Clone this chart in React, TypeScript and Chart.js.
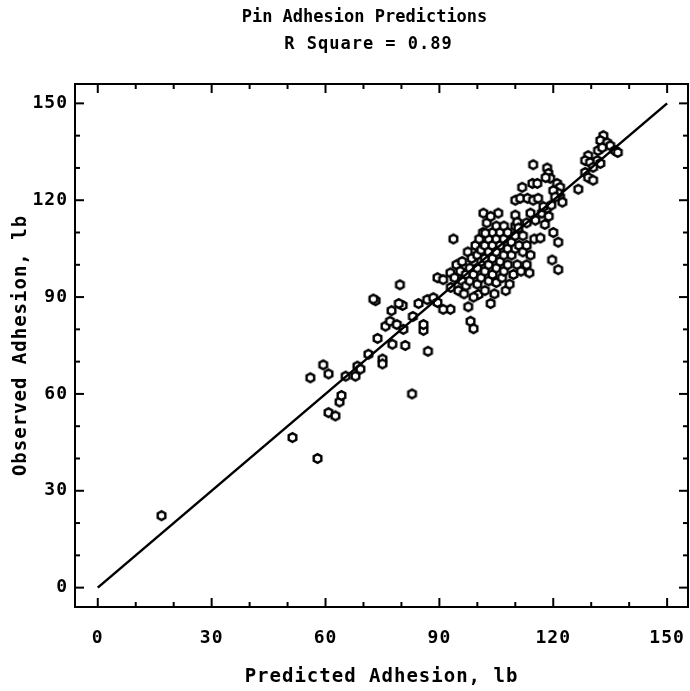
import React, { useEffect, useRef } from "react";
import { Chart, registerables } from "chart.js";
Chart.register(...registerables);

const titleLines = ["Pin Adhesion Predictions", "R Square = 0.89"];
const xAxisTitle = "Predicted Adhesion, lb";
const yAxisTitle = "Observed Adhesion, lb";
const tickValues = [0, 30, 60, 90, 120, 150];
const minorTickValues = [0, 10, 20, 30, 40, 50, 60, 70, 80, 90, 100, 110, 120, 130, 140, 150];
const fitLineX = [0, 150];
const fitLineY = [0, 150];

const predicted = [
  16.8, 51.3, 57.9, 60.8, 62.6, 63.7, 64.2, 82.8,
  56, 59.4, 60.8, 65.3, 67.9, 68.4, 69.2, 71.3, 75, 75, 73.7, 77.6, 81, 87, 75.8, 77, 78.8, 80.5, 83, 85.8, 85.8, 77.4, 80.3, 79.3, 73.2, 72.6, 84.5, 86.8, 88.4, 79.6, 89.5, 91, 92.9, 92.9, 91, 89.5, 97.6, 98.2, 99, 100.3, 93.7,
  93, 94, 94.5, 95, 95.5, 96, 96, 96.5, 97, 97, 97.5, 98, 98, 98.5, 99, 99, 99.5, 100, 100, 100, 100.5, 101, 101, 101, 101.5, 102, 102, 102, 102, 102.5, 103, 103, 103, 103, 103.5, 104, 104, 104, 104, 104.5, 105, 105, 105, 105, 105, 105.5, 106, 106, 106, 106.5, 107, 107, 107, 107, 107.5, 108, 108, 108, 108.5, 109, 109, 109.5, 110, 110, 110, 110.5, 111, 111.5, 112, 112, 113, 113.7, 114, 113, 113, 115, 116.6, 120, 121.3, 119.7, 121.3, 101.6, 102.1, 103.5, 110, 110.5, 110.8, 114, 115.3, 117, 118.3, 118.8, 117.8, 110, 111.3, 113.2, 114.7, 116, 121.8, 122.4, 117.4, 119.5, 114.7, 118.4, 118.7, 119.2, 118, 121, 121.8, 121.3, 120, 120.5, 111.8, 114.5, 115.8,
  133.2, 132.4, 134.2, 135, 136.3, 137, 131.8, 132.9, 129.2, 128.4, 129.7, 131.6, 132.4, 130.5, 128.4, 129.2, 130.5, 126.6,
];

const observed = [
  22.3, 46.5, 40, 54.2, 53.2, 57.5, 59.5, 60,
  65, 69, 66.2, 65.5, 65.5, 68.6, 67.7, 72.3, 70.8, 69.3, 77.2, 75.4, 75, 73.2, 81, 82.5, 81.5, 80, 84, 79.7, 81.5, 85.8, 87.4, 88, 88.9, 89.4, 88, 89.2, 89.8, 93.8, 96, 95.4, 97.5, 86.2, 86.2, 88.3, 87, 82.5, 80.2, 90.8, 108,
  93, 96, 100, 92, 98, 95, 101, 91, 97, 93.5, 104, 99, 95, 102, 90, 97, 106, 94, 99, 103, 108, 96, 101, 104.6, 110, 92, 98, 102, 106, 113, 95, 100, 104, 108, 88, 97, 102, 106, 110, 91, 99, 104, 108, 112, 94.5, 116, 101, 106, 110, 96, 98, 103, 108, 112, 92, 100, 105, 110, 94, 103, 107, 97, 105, 109, 112, 100, 106, 98, 104, 109, 100, 97.5, 103, 106, 113, 108, 108.3, 110, 107, 101.5, 98.5, 116, 109.8, 115, 115.4, 113.2, 111.4, 116, 113.8, 116, 117.4, 115, 112.5, 120, 120.6, 120.6, 120, 120.6, 121, 119.4, 118, 118.5, 131, 130, 128.3, 126.8, 127, 125.2, 124, 122.2, 123, 121, 124, 125.2, 125.2,
  140, 138.5, 137.8, 136.9, 135.4, 134.8, 135.4, 136.3, 133.8, 132.3, 131.7, 132.3, 131.4, 130.2, 128.6, 127, 126.2, 123.4,
];

const FONT = '"DejaVu Sans Mono", monospace';

function makeHexagon(): HTMLCanvasElement {
  const c = document.createElement("canvas");
  c.width = 13;
  c.height = 13;
  const g = c.getContext("2d")!;
  g.beginPath();
  for (let i = 0; i < 6; i++) {
    const a = Math.PI / 6 + (i * Math.PI) / 3;
    const px = 6.5 + 4.4 * Math.cos(a);
    const py = 6.5 + 4.4 * Math.sin(a);
    if (i === 0) g.moveTo(px, py);
    else g.lineTo(px, py);
  }
  g.closePath();
  g.fillStyle = "#fff";
  g.fill();
  g.lineWidth = 2.4;
  g.strokeStyle = "#000";
  g.stroke();
  return c;
}

const spacingPlugin = {
  id: "spacing",
  beforeDraw(chart: any) {
    (chart.ctx as any).letterSpacing = "1px";
  },
};

const framePlugin = {
  id: "frameTicks",
  afterDatasetsDraw(chart: any) {
    const { ctx, chartArea, scales } = chart;
    const { left, right, top, bottom } = chartArea;
    const x = scales.x;
    const y = scales.y;
    ctx.save();
    ctx.strokeStyle = "#000";
    ctx.lineWidth = 2;
    ctx.strokeRect(left, top, right - left, bottom - top);
    const seg = (x1: number, y1: number, x2: number, y2: number) => {
      ctx.beginPath();
      ctx.moveTo(x1, y1);
      ctx.lineTo(x2, y2);
      ctx.stroke();
    };
    minorTickValues.forEach((v) => {
      const len = v % 30 === 0 ? 9 : 5;
      const px = x.getPixelForValue(v);
      seg(px, bottom, px, bottom - len);
      seg(px, top, px, top + len);
      const py = y.getPixelForValue(v);
      seg(left, py, left + len, py);
      seg(right, py, right - len, py);
    });
    ctx.restore();
  },
};

const titlePlugin = {
  id: "plotTitle",
  afterDraw(chart: any) {
    const { ctx, chartArea } = chart;
    const cx = (chartArea.left + chartArea.right) / 2 - 17;
    ctx.save();
    ctx.fillStyle = "#000";
    ctx.font = `bold 17px ${FONT}`;
    ctx.textAlign = "center";
    ctx.textBaseline = "middle";
    (ctx as any).letterSpacing = "0px";
    ctx.fillText(titleLines[0], cx, 18);
    (ctx as any).letterSpacing = "1px";
    ctx.fillText(titleLines[1], cx + 4, 45);
    ctx.restore();
  },
};

export default function App() {
  const ref = useRef<HTMLCanvasElement | null>(null);
  useEffect(() => {
    if (!ref.current) return;
    const hex = makeHexagon();
    const points = predicted.map((p, i) => ({ x: p, y: observed[i] }));
    const line = fitLineX.map((p, i) => ({ x: p, y: fitLineY[i] }));
    const chart = new Chart(ref.current, {
      type: "scatter",
      data: {
        datasets: [
          {
            type: "line",
            data: line,
            borderColor: "#000",
            borderWidth: 2.5,
            pointRadius: 0,
            fill: false,
          } as any,
          {
            data: points,
            pointStyle: hex as any,
            pointRadius: 5,
            borderColor: "#000",
            backgroundColor: "#fff",
          },
        ],
      },
      options: {
        responsive: false,
        animation: false,
        devicePixelRatio: 1,
        layout: { autoPadding: false, padding: { top: 84, right: 2, left: 0, bottom: 0 } },
        plugins: { legend: { display: false }, tooltip: { enabled: false }, title: { display: false } },
        scales: {
          x: {
            type: "linear",
            min: -6,
            max: 155.5,
            afterBuildTicks: (s: any) => {
              s.ticks = tickValues.map((v) => ({ value: v }));
            },
            afterFit: (s: any) => {
              s.height = 84;
              s.paddingLeft = 0;
              s.paddingRight = 0;
            },
            grid: { display: false, drawTicks: false },
            border: { display: false },
            ticks: {
              color: "#000",
              font: { family: FONT, size: 18, weight: "bold" },
              padding: 21,
              maxRotation: 0,
              autoSkip: false,
            },
            title: {
              display: true,
              text: xAxisTitle,
              color: "#000",
              font: { family: FONT, size: 19, weight: "bold" },
              padding: { top: 0, bottom: 3 },
            },
          },
          y: {
            type: "linear",
            min: -6,
            max: 156,
            afterBuildTicks: (s: any) => {
              s.ticks = tickValues.map((v) => ({ value: v }));
            },
            afterFit: (s: any) => {
              s.width = 75;
              s.paddingTop = 0;
              s.paddingBottom = 0;
            },
            grid: { display: false, drawTicks: false },
            border: { display: false },
            ticks: {
              color: "#000",
              font: { family: FONT, size: 18, weight: "bold" },
              padding: 7,
              autoSkip: false,
            },
            title: {
              display: true,
              text: yAxisTitle,
              color: "#000",
              font: { family: FONT, size: 19, weight: "bold" },
              padding: { top: 10, bottom: 0 },
            },
          },
        },
      },
      plugins: [spacingPlugin, framePlugin, titlePlugin],
    });
    return () => chart.destroy();
  }, []);
  return (
    <div style={{ position: "absolute", left: 0, top: 0, width: 690, height: 691, background: "#fff" }}>
      <canvas ref={ref} width={690} height={691} />
    </div>
  );
}
